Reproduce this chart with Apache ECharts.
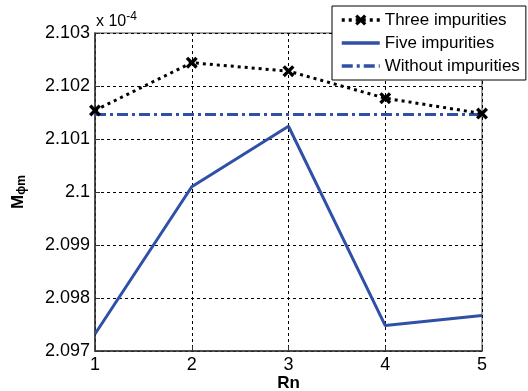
<!DOCTYPE html>
<html>
<head>
<meta charset="utf-8">
<script src="https://cdn.jsdelivr.net/npm/echarts@6/dist/echarts.min.js"></script>
<style>
  html, body { margin: 0; padding: 0; background: #fff; }
  #chart { width: 528px; height: 391px; }
</style>
</head>
<body>
<div id="chart"></div>
<script>
// values (axis shown in units of 1e-4)
const rn = [1, 2, 3, 4, 5];
const threeImp = [2.10154, 2.10244, 2.10228, 2.10177, 2.10148];
const fiveImp = [2.09732, 2.10010, 2.10124, 2.09748, 2.09767];
const withoutImp = [2.10146, 2.10146, 2.10146, 2.10146, 2.10146];

const pairs = (xs, ys) => xs.map((x, i) => [x, ys[i]]);

const blue = '#3050a8';
const font = 'Liberation Sans, Arial, sans-serif';
// filled cross marker
const cross = 'path://M0,2 L2,0 L5,3 L8,0 L10,2 L7,5 L10,8 L8,10 L5,7 L2,10 L0,8 L3,5 Z';

var myChart = echarts.init(document.getElementById('chart'));
myChart.setOption({
  animation: false,
  textStyle: { fontFamily: font },
  grid: {
    left: 95, right: 46, top: 33, bottom: 40,
    outerBoundsMode: 'none', containLabel: false,
    show: true, borderColor: '#888', borderWidth: 1.5
  },
  legend: {
    orient: 'vertical',
    left: 332, top: 6,
    backgroundColor: '#fff',
    borderColor: '#000', borderWidth: 1,
    padding: [5, 6, 5, 8],
    itemGap: 5,
    itemWidth: 38, itemHeight: 14,
    lineStyle: { width: 3.5 },
    textStyle: { fontSize: 17, lineHeight: 18, color: '#000', fontFamily: font },
    data: [
      { name: 'Three impurities' },
      { name: 'Five impurities', itemStyle: { opacity: 0 } },
      { name: 'Without impurities', itemStyle: { opacity: 0 } }
    ]
  },
  xAxis: {
    type: 'value', min: 1, max: 5, interval: 1,
    name: 'Rn', nameLocation: 'middle', nameGap: 24, nameMoveOverlap: false,
    nameTextStyle: { fontSize: 17, fontWeight: 'bold', color: '#000' },
    axisLine: { lineStyle: { color: '#333', width: 1.5 } },
    axisTick: { inside: true, length: 5, lineStyle: { color: '#333' } },
    axisLabel: { fontSize: 18, color: '#000', margin: 5 },
    splitLine: { show: true, lineStyle: { color: '#000', type: [3, 3], width: 1 } }
  },
  yAxis: {
    type: 'value', min: 2.097, max: 2.103, interval: 0.001,
    name: '{m|M}{s|ϕm}', nameLocation: 'middle', nameGap: 67, nameRotate: 90, nameMoveOverlap: false,
    nameTextStyle: {
      color: '#000',
      rich: {
        m: { fontSize: 17, fontWeight: 'bold', fontFamily: font },
        s: { fontSize: 12, fontWeight: 'bold', fontFamily: font, verticalAlign: 'bottom', padding: [8, 0, 0, 0] }
      }
    },
    axisLine: { show: true, lineStyle: { color: '#333', width: 1.5 } },
    axisTick: { show: true, inside: true, length: 5, lineStyle: { color: '#333' } },
    axisLabel: { fontSize: 18, color: '#000', margin: 5, formatter: v => String(Number(v.toFixed(3))) },
    splitLine: { show: true, lineStyle: { color: '#000', type: [3, 3], width: 1 } }
  },
  graphic: [{
    type: 'text', left: 96, top: 11,
    style: {
      text: '{a|x 10}{b|-4}',
      rich: {
        a: { fontSize: 16, fill: '#000', fontFamily: font },
        b: { fontSize: 12, fill: '#000', fontFamily: font, verticalAlign: 'top', padding: [0, 0, 10, 0] }
      }
    }
  }],
  series: [
    {
      name: 'Three impurities', type: 'line',
      data: pairs(rn, threeImp),
      symbol: cross, symbolSize: 12,
      itemStyle: { color: '#000' },
      lineStyle: { color: '#000', width: 3, type: [3, 4] },
      z: 4
    },
    {
      name: 'Five impurities', type: 'line',
      data: pairs(rn, fiveImp),
      showSymbol: false, symbol: 'none',
      itemStyle: { color: blue },
      lineStyle: { color: blue, width: 3 },
      z: 3
    },
    {
      name: 'Without impurities', type: 'line',
      data: pairs(rn, withoutImp),
      showSymbol: false, symbol: 'none',
      itemStyle: { color: blue },
      lineStyle: { color: blue, width: 3, type: [11, 4, 3, 4] },
      z: 2
    }
  ]
});
</script>
</body>
</html>
